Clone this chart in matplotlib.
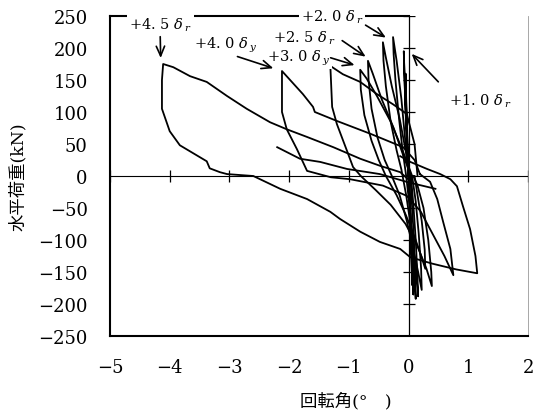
import numpy as np
import matplotlib
matplotlib.use("Agg")
import matplotlib.pyplot as plt

plt.rcParams['font.family'] = ['DejaVu Serif', 'Noto Sans CJK JP']
plt.rcParams['mathtext.fontset'] = 'dejavuserif'

# 履歴ループ (回転角[deg], 水平荷重[kN]) - 図から読み取り
loop_h_x = [0.0, -0.03, -0.06, -0.08, -0.07, -0.05, -0.02, 0.01, 0.04, 0.07, 0.08, 0.07, 0.05, 0.02, 0.0]
loop_h_y = [0, 60, 130, 195, 160, 100, 40, -20, -90, -150, -185, -150, -90, -30, 0]

loop_i_x = [0.0, -0.02, -0.04, -0.05, -0.04, -0.02, 0.0, 0.03, 0.05, 0.06, 0.05, 0.03, 0.01]
loop_i_y = [0, 50, 110, 160, 120, 60, 0, -70, -130, -170, -130, -60, 0]

loop_g_x = [0.0, -0.05, -0.12, -0.2, -0.26, -0.25, -0.22, -0.16, -0.1, -0.04, 0.02, 0.07, 0.1, 0.12, 0.11, 0.09, 0.06, 0.03]
loop_g_y = [0, 50, 120, 180, 217, 190, 150, 90, 40, 0, -50, -110, -160, -192, -160, -100, -50, 0]

loop_f_x = [0.03, -0.05, -0.15, -0.28, -0.38, -0.43, -0.42, -0.38, -0.3, -0.2, -0.12, -0.04, 0.04, 0.1, 0.14, 0.16, 0.15, 0.12, 0.08, 0.04]
loop_f_y = [0, 40, 90, 140, 185, 209, 180, 140, 85, 40, 10, -30, -80, -130, -165, -188, -160, -100, -45, 0]

loop_e_x = [0.04, -0.1, -0.25, -0.45, -0.6, -0.68, -0.67, -0.62, -0.52, -0.4, -0.28, -0.15, -0.03, 0.08, 0.16, 0.22, 0.21, 0.17, 0.12, 0.06]
loop_e_y = [0, 35, 75, 120, 160, 180, 150, 105, 60, 25, 0, -30, -70, -115, -150, -178, -145, -90, -40, 0]

loop_d_x = [0.06, -0.1, -0.3, -0.53, -0.7, -0.81, -0.80, -0.74, -0.62, -0.5, -0.38, -0.2, -0.05, 0.1, 0.2, 0.28, 0.27, 0.22, 0.15, 0.1]
loop_d_y = [0, 40, 85, 125, 152, 166, 135, 95, 55, 25, 0, -30, -60, -95, -122, -145, -115, -70, -30, 0]

loop_c_x = [0.15, 0.1, -0.03, -0.26, -0.53, -0.81, -1.1, -1.31, -1.28, -1.2, -1.03, -0.93, -0.8, -0.55, -0.3, -0.05, 0.15, 0.3, 0.39, 0.38, 0.33, 0.25, 0.15, 0.08]
loop_c_y = [0, 50, 97, 112, 128, 147, 159, 172, 108, 81, 39, 14, 0, -22, -45, -75, -110, -145, -172, -150, -100, -50, -15, 0]

loop_b_x = [0.19, 0.1, -0.09, -0.64, -1.2, -1.57, -1.6, -1.77, -2.12, -2.12, -2.04, -1.87, -1.7, -1.3, -0.98, -0.43, -0.03, 0.2, 0.4, 0.6, 0.75, 0.7, 0.58, 0.48, 0.36, 0.19]
loop_b_y = [3, 25, 45, 66, 86, 100, 108, 128, 164, 100, 73, 42, 8, -2, -5, -15, -31, -55, -90, -125, -155, -114, -72, -36, -9, 3]

loop_a_x = [0.03, -0.14, -0.48, -0.81, -1.26, -1.7, -2.04, -2.32, -2.71, -3.04, -3.38, -3.66, -3.94, -4.11, -4.13, -4.13, -4.0, -3.83, -3.38, -3.33, -3.16, -3.04, -2.6, -2.15, -1.7, -1.31, -1.15, -0.81, -0.48, -0.14, 0.03, 0.4, 0.8, 1.15, 1.12, 1.03, 0.91, 0.81, 0.70, 0.53, 0.31, 0.03, -0.14]
loop_a_y = [-8, 6, 16, 27, 45, 61, 73, 84, 105, 125, 147, 156, 170, 175, 150, 105, 70, 48, 23, 12, 6, 3, 0, -20, -36, -56, -67, -87, -103, -114, -127, -137, -146, -152, -125, -83, -47, -16, -5, 3, 11, 22, 31]

tail_x = [0.45, 0.0, -0.48, -1.03, -1.48, -1.82, -2.2]
tail_y = [-20, -10, 3, 11, 22, 27, 45]

loops = [(loop_i_x, loop_i_y), (loop_h_x, loop_h_y), (loop_g_x, loop_g_y),
         (loop_f_x, loop_f_y), (loop_e_x, loop_e_y), (loop_d_x, loop_d_y),
         (loop_c_x, loop_c_y), (loop_b_x, loop_b_y), (loop_a_x, loop_a_y),
         (tail_x, tail_y)]

x_ticks = [-5, -4, -3, -2, -1, 0, 1, 2]
y_ticks = [-250, -200, -150, -100, -50, 0, 50, 100, 150, 200, 250]

# 注記: (文字, 文字位置, 矢印元, 矢印先)
labels = ["+4. 5 $\\delta_{\\,r}$", "+4. 0 $\\delta_{\\,y}$", "+3. 0 $\\delta_{\\,y}$",
          "+2. 5 $\\delta_{\\,r}$", "+2. 0 $\\delta_{\\,r}$", "+1. 0 $\\delta_{\\,r}$"]
label_xy = [(-4.15, 237), (-3.06, 206), (-1.85, 186), (-1.75, 217), (-1.28, 249), (1.2, 118)]
arrow_from = [(-4.16, 222), (-2.91, 188), (-1.35, 186), (-1.15, 214), (-0.76, 238), (0.53, 144)]
arrow_to = [(-4.15, 180), (-2.22, 167), (-0.86, 172), (-0.68, 184), (-0.34, 214), (0.02, 194)]

fig = plt.figure(figsize=(5.34, 4.14), dpi=100)
ax = fig.add_axes([110 / 534, 1 - 337 / 414, 418 / 534, 320 / 414])

for lx, ly in loops:
    ax.plot(lx, ly, color='black', lw=1.3)

# 原点を通る軸と目盛り
ax.axhline(0, color='black', lw=0.8)
ax.axvline(0, color='black', lw=0.9)
ax.plot(x_ticks, [0] * len(x_ticks), ls='none', marker='|', ms=9, mew=0.9, color='black')
ax.plot([0] * len(y_ticks), y_ticks, ls='none', marker='_', ms=9, mew=0.9, color='black')

# 上辺の枠線 (0まで)
ax.plot([-5, 0], [250, 250], color='black', lw=1.5, clip_on=False)

for s, (tx, ty), p0, p1 in zip(labels, label_xy, arrow_from, arrow_to):
    ax.text(tx, ty, s, fontsize=10.5, ha='center', va='center',
            bbox=dict(facecolor='white', edgecolor='none', pad=1.5), zorder=5)
    ax.annotate('', xy=p1, xytext=p0,
                arrowprops=dict(arrowstyle='->,head_length=0.7,head_width=0.3', color='black', lw=1.2),
                zorder=6)

ax.set_xlim(-5, 2)
ax.set_ylim(-250, 250)
ax.set_xticks(x_ticks)
ax.set_yticks(y_ticks)
ax.tick_params(length=0, labelsize=13)
ax.tick_params(axis='y', pad=16)
ax.tick_params(axis='x', pad=16)
ax.spines['top'].set_visible(False)
ax.spines['left'].set_linewidth(1.5)
ax.spines['bottom'].set_linewidth(1.5)
ax.spines['right'].set_linewidth(0.6)
ax.spines['right'].set_color('#999999')

ax.set_ylabel('水平荷重(kN)', fontsize=12.5, labelpad=8)
fig.text(346 / 534, 1 - 402 / 414, '回転角(°\u3000)', fontsize=12.5, ha='center', va='center')

fig.savefig('out.png', dpi=100)
